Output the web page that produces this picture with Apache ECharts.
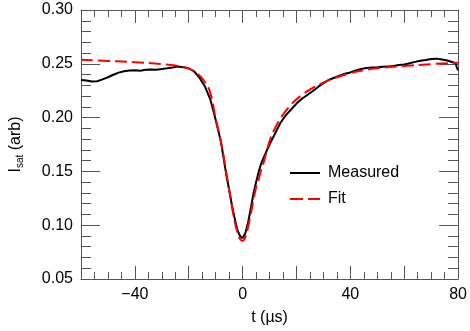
<!DOCTYPE html>
<html><head><meta charset="utf-8">
<script src="https://cdn.jsdelivr.net/npm/echarts@6/dist/echarts.min.js"></script>
<style>html,body{margin:0;padding:0;background:#fff}#c{width:470px;height:331px}</style>
</head><body><div id="c"></div>
<script>
var measuredT = [-60,-58,-56,-54,-52,-50,-48,-46,-44,-42,-40,-38,-36,-34,-32,-30,-28,-26,-24,-22,-20,-18,-16,-14,-12,-10,-8,-6,-5,-4,-3,-2,-1,0,1,2,3,4,5,6,7,8,10,12,14,16,18,20,22,24,26,28,30,32,34,36,38,40,42,44,46,48,50,52,54,56,58,60,62,64,66,68,70,72,74,76,78,79,79.5,80];
var measuredV = [0.2350,0.2345,0.2335,0.2338,0.2355,0.2375,0.2398,0.2418,0.2430,0.2438,0.2440,0.2436,0.2444,0.2447,0.2445,0.2452,0.2458,0.2466,0.2475,0.2468,0.2458,0.2430,0.2370,0.2290,0.2170,0.1980,0.1770,0.1460,0.1330,0.1190,0.1070,0.0960,0.0900,0.0880,0.0925,0.1020,0.1150,0.1290,0.1400,0.1500,0.1580,0.1640,0.1750,0.1850,0.1950,0.2020,0.2075,0.2130,0.2175,0.2210,0.2245,0.2285,0.2320,0.2350,0.2370,0.2390,0.2408,0.2420,0.2438,0.2452,0.2460,0.2465,0.2468,0.2472,0.2476,0.2480,0.2488,0.2493,0.2505,0.2518,0.2528,0.2536,0.2545,0.2548,0.2540,0.2530,0.2515,0.2505,0.2470,0.2440];
var fitT = [-60,-50,-40,-30,-25,-20,-16,-14,-12,-10,-8,-6,-5,-4,-3,-2,-1,0,1,2,3,4,5,6,7,8,10,12,14,16,18,20,22,25,30,35,40,45,50,60,70,80];
var fitV = [0.2537,0.2527,0.2515,0.2497,0.2484,0.2455,0.2390,0.2330,0.2230,0.1990,0.1770,0.1480,0.1330,0.1180,0.1040,0.0940,0.0875,0.0855,0.0890,0.0980,0.1100,0.1230,0.1350,0.1430,0.1520,0.1600,0.1780,0.1900,0.1990,0.2060,0.2120,0.2170,0.2210,0.2260,0.2325,0.2375,0.2413,0.2440,0.2458,0.2480,0.2497,0.2510];
var seriesNames = ['Measured','Fit'];
var xTitle = 't (\u00b5s)';

function zip(a,b){return a.map(function(t,i){return [t,b[i]];});}
var axisCol = '#555';
var chart = echarts.init(document.getElementById('c'));
var font = 'Liberation Sans, Arial, Helvetica, sans-serif';
var xBase = {type:'value',min:-60,max:80,interval:20,
  axisLine:{show:true,onZero:false,lineStyle:{color:axisCol,width:1}},
  axisTick:{show:true,inside:true,length:13,lineStyle:{color:axisCol,width:1}},
  minorTick:{show:true,splitNumber:4,length:7,lineStyle:{color:axisCol,width:1}},
  splitLine:{show:false},minorSplitLine:{show:false}};
var yBase = {type:'value',min:0.05,max:0.30,interval:0.05,
  axisLine:{show:true,onZero:false,lineStyle:{color:axisCol,width:1}},
  axisTick:{show:true,inside:true,length:19,lineStyle:{color:axisCol,width:1}},
  minorTick:{show:true,splitNumber:5,length:10,lineStyle:{color:axisCol,width:1}},
  splitLine:{show:false},minorSplitLine:{show:false}};
function ext(b,o){var r=JSON.parse(JSON.stringify(b));for(var k in o)r[k]=o[k];return r;}
chart.setOption({
  animation:false,
  grid:{left:75,right:8,top:10,bottom:51,containLabel:false},
  legend:{orient:'vertical',left:285,top:160,itemWidth:30,itemHeight:2,itemGap:10,
    data:[{name:seriesNames[0],icon:'path://M0,0H30V2H0Z',itemStyle:{color:'#000'}},
          {name:seriesNames[1],icon:'path://M0,0H13V2H0Z M18,0H30V2H18Z',itemStyle:{color:'#ff0000'}}],
    textStyle:{fontFamily:font,fontSize:16,color:'#000',padding:[0,0,0,3]}},
  xAxis:[ext(xBase,{position:'bottom',name:xTitle,nameLocation:'middle',nameGap:31,
      nameTextStyle:{fontFamily:font,fontSize:16,color:'#000'},
      axisLabel:{show:true,margin:8,fontFamily:font,fontSize:16,color:'#000',
        formatter:function(v){if(v%40!==0)return '';return v<0?'\u2212'+(-v):String(v);}}}),
    ext(xBase,{position:'top',axisLabel:{show:false}})],
  yAxis:[ext(yBase,{position:'left',name:'{i|I}{s|sat}{n| (arb)}',nameLocation:'middle',nameGap:56,nameRotate:90,
      nameTextStyle:{fontFamily:font,fontSize:16,color:'#000',rich:{
        i:{fontFamily:font,fontSize:16,color:'#000'},
        s:{fontFamily:font,fontSize:10,color:'#000',padding:[8,0,0,0]},
        n:{fontFamily:font,fontSize:16,color:'#000'}}},
      axisLabel:{show:true,margin:8,fontFamily:font,fontSize:16,color:'#000',
        formatter:function(v){return v.toFixed(2);}}}),
    ext(yBase,{position:'right',axisLabel:{show:false}})],
  series:[
    {name:seriesNames[0],type:'line',data:zip(measuredT,measuredV),symbol:'none',smooth:false,
      lineStyle:{color:'#000',width:2},itemStyle:{color:'#000'},z:2},
    {name:seriesNames[1],type:'line',data:zip(fitT,fitV),symbol:'none',smooth:true,
      lineStyle:{color:'#ff0000',width:2,type:[12,5]},itemStyle:{color:'#ff0000'},z:3}
  ]
});
</script></body></html>
